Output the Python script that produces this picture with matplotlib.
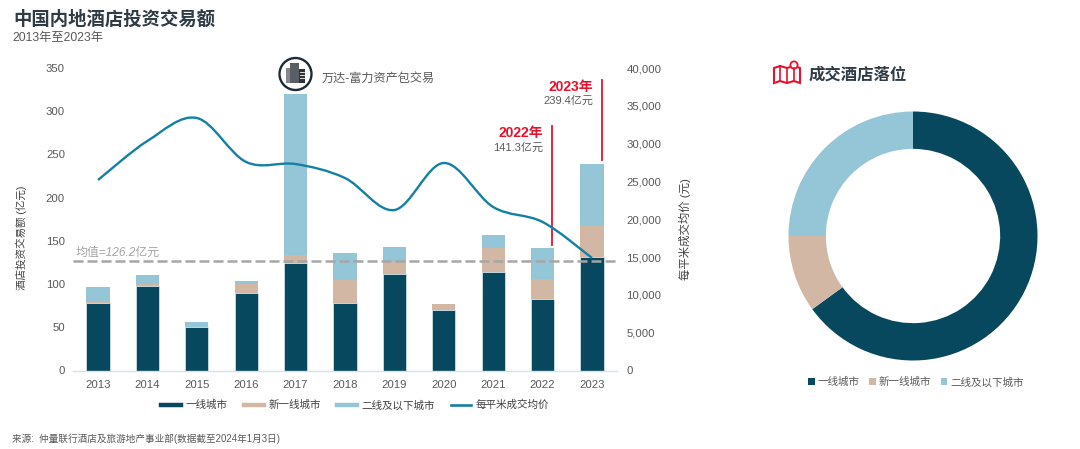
import matplotlib
matplotlib.use("Agg")
import matplotlib.pyplot as plt
from matplotlib.lines import Line2D
from matplotlib.patches import Circle, PathPatch, Polygon, Rectangle
from matplotlib.path import Path

plt.rcParams['font.family'] = ['Liberation Sans', 'Noto Sans CJK SC', 'DejaVu Sans']

years = ['2013', '2014', '2015', '2016', '2017', '2018', '2019', '2020', '2021', '2022', '2023']
tier1 = [77.8, 98, 50, 89.3, 124.8, 78, 111.3, 69.6, 114, 82.4, 131]
new_tier1 = [1.5, 1.7, 0, 11.2, 8.5, 27, 13.7, 7.4, 27.4, 23.5, 36.6]
tier2 = [17, 10.8, 6.5, 3.1, 186.2, 31, 17.5, 0, 15.6, 35.4, 71.8]
price = [25190, 30350, 33390, 27570, 27300, 25450, 21220, 27440, 21620, 19640, 14880]
mean_value = 126.2
donut_labels = ['一线城市', '新一线城市', '二线及以下城市']
donut_share = [65, 10, 25]

DARK = '#07485f'
TAN = '#d2b7a5'
LIGHT = '#95c6d7'
LINE = '#1380a6'
RED = '#e8112d'
GREY = '#595959'
W, H = 1080, 449


def box(x0, y0, x1, y1):
    # pixel box (y from top) to figure fractions
    return [x0 / W, 1 - y1 / H, (x1 - x0) / W, (y1 - y0) / H]


def smooth_path(xs, ys):
    # Catmull-Rom through the points, written as cubic beziers
    verts = [(xs[0], ys[0])]
    codes = [Path.MOVETO]
    n = len(xs)
    for i in range(n - 1):
        a = max(i - 1, 0)
        b = min(i + 2, n - 1)
        verts.append((xs[i] + (xs[i + 1] - xs[a]) / 6, ys[i] + (ys[i + 1] - ys[a]) / 6))
        verts.append((xs[i + 1] - (xs[b] - xs[i]) / 6, ys[i + 1] - (ys[b] - ys[i]) / 6))
        verts.append((xs[i + 1], ys[i + 1]))
        codes += [Path.CURVE4, Path.CURVE4, Path.CURVE4]
    return Path(verts, codes)


fig = plt.figure(figsize=(W / 100, H / 100), dpi=100, facecolor='white')

# left chart
ax = fig.add_axes(box(73.3, 68, 616.7, 370.5))
x = list(range(len(years)))
bottom2 = [a + b for a, b in zip(tier1, new_tier1)]
ax.bar(x, tier1, width=0.47, color=DARK, edgecolor='#dfeaf0', linewidth=0.5, zorder=2)
ax.bar(x, new_tier1, width=0.47, bottom=tier1, color=TAN, edgecolor='none', zorder=2)
ax.bar(x, tier2, width=0.47, bottom=bottom2, color=LIGHT, edgecolor='none', zorder=2)
ax.axhline(mean_value, color='#a6a6a6', lw=1.8, ls=(0, (4, 1.6)), zorder=3)
ax.set_xlim(-0.5, 10.5)
ax.set_ylim(0, 350)
ax.set_xticks(x, years)
ax.set_yticks(range(0, 351, 50))
ax.tick_params(length=0, labelsize=8.2, colors=GREY, pad=7)
ax.tick_params(axis='y', pad=6)
for s in ['top', 'left', 'right']:
    ax.spines[s].set_visible(False)
ax.spines['bottom'].set_color('#d3e2ee')
ax.spines['bottom'].set_linewidth(1)
ax.set_axisbelow(True)

ax2 = ax.twinx()
ax2.set_ylim(0, 40000)
ax2.set_yticks(range(0, 40001, 5000), [f'{v:,}' for v in range(0, 40001, 5000)])
ax2.tick_params(length=0, labelsize=8.2, colors=GREY, pad=7)
for s in ax2.spines.values():
    s.set_visible(False)
ax2.add_patch(PathPatch(smooth_path(x, price), fill=False, edgecolor=LINE, lw=1.7, zorder=4))

ax.plot([9.19, 9.19], [145, 283], color=RED, lw=1.3, zorder=5)
ax.plot([10.2, 10.2], [243.6, 336], color=RED, lw=1.3, zorder=5)

# overlay in pixel coordinates for texts and small icons
ov = fig.add_axes([0, 0, 1, 1], facecolor='none')
ov.set_xlim(0, W)
ov.set_ylim(H, 0)
ov.axis('off')
ov.text(13, 19.5, '中国内地酒店投资交易额', fontsize=13.2, fontweight='bold', color='#2f3b45', va='center')
ov.text(12, 37.5, '2013年至2023年', fontsize=8.8, color=GREY, va='center')
ov.text(76, 252.5, '均值=126.2亿元', fontsize=8.6, color='#a6a6a6', style='italic', va='center')
ov.text(322, 78.5, '万达-富力资产包交易', fontsize=8.7, color=GREY, va='center')
ov.text(543, 133, '2022年', fontsize=10, fontweight='bold', color=RED, va='center', ha='right')
ov.text(543, 148, '141.3亿元', fontsize=8, color=GREY, va='center', ha='right')
ov.text(593, 87, '2023年', fontsize=10, fontweight='bold', color=RED, va='center', ha='right')
ov.text(593, 101, '239.4亿元', fontsize=8, color=GREY, va='center', ha='right')
ov.text(21, 238, '酒店投资交易额 (亿元)', fontsize=7.6, color='#404040', rotation=90, va='center', ha='center')
ov.text(685, 229, '每平米成交均价 (元)', fontsize=8.2, color='#404040', rotation=90, va='center', ha='center')
ov.text(12, 438.5, '来源:  仲量联行酒店及旅游地产事业部(数据截至2024年1月3日)', fontsize=6.9, color=GREY, va='center')
ov.text(809, 75, '成交酒店落位', fontsize=11.8, fontweight='bold', color='#2f3b45', va='center')

# building icon
ov.add_patch(Circle((295.5, 74), 16, fill=False, edgecolor='#1d2b36', lw=1.7))
ov.add_patch(Rectangle((286, 68), 9, 15, color='#85898d', lw=0))
ov.add_patch(Rectangle((290, 63), 9, 20, color='#5a5f64', lw=0))
ov.add_patch(Rectangle((299, 69), 6, 14, color='#2f3438', lw=0))
for yy in [72, 75, 78]:
    ov.plot([300, 304], [yy, yy], color='white', lw=0.6)

# map icon
ov.add_patch(Polygon([(774, 68), (780, 66), (787, 68), (794, 66), (800, 68), (800, 83),
                      (794, 81), (787, 83), (780, 81), (774, 83)],
                     closed=True, fill=False, edgecolor=RED, lw=1.5))
ov.plot([780, 780], [66, 81], color=RED, lw=1.2)
ov.plot([787, 787], [68, 83], color=RED, lw=1.2)
ov.plot([794, 794], [68, 81], color=RED, lw=1.2)
ov.add_patch(Circle((794, 65), 3.6, facecolor='white', edgecolor=RED, lw=1.3))

# left legend
handles = [Line2D([], [], color=DARK, lw=3.2), Line2D([], [], color=TAN, lw=3.2),
           Line2D([], [], color=LIGHT, lw=3.2), Line2D([], [], color=LINE, lw=1.9)]
fig.legend(handles, ['一线城市', '新一线城市', '二线及以下城市', '每平米成交均价'],
           ncol=4, frameon=False, loc='center', bbox_to_anchor=(355 / W, 1 - 405 / H),
           fontsize=7.6, labelcolor='#404040', handlelength=1.9, handletextpad=0.45,
           columnspacing=1.5, borderpad=0)

# donut
ax3 = fig.add_axes(box(788.5, 111.5, 1037.5, 360.5))
wedges, _ = ax3.pie(donut_share, colors=[DARK, TAN, LIGHT], startangle=90, counterclock=False,
                    radius=1, wedgeprops={'width': 0.3, 'linewidth': 0})
ax3.set_xlim(-1, 1)
ax3.set_ylim(-1, 1)
fig.legend(wedges, donut_labels, ncol=3, frameon=False, loc='center',
           bbox_to_anchor=(916 / W, 1 - 382 / H), fontsize=7.6, labelcolor=GREY,
           handlelength=0.6, handleheight=0.6, handletextpad=0.3, columnspacing=0.9, borderpad=0)

fig.savefig('out.png', dpi=100)
